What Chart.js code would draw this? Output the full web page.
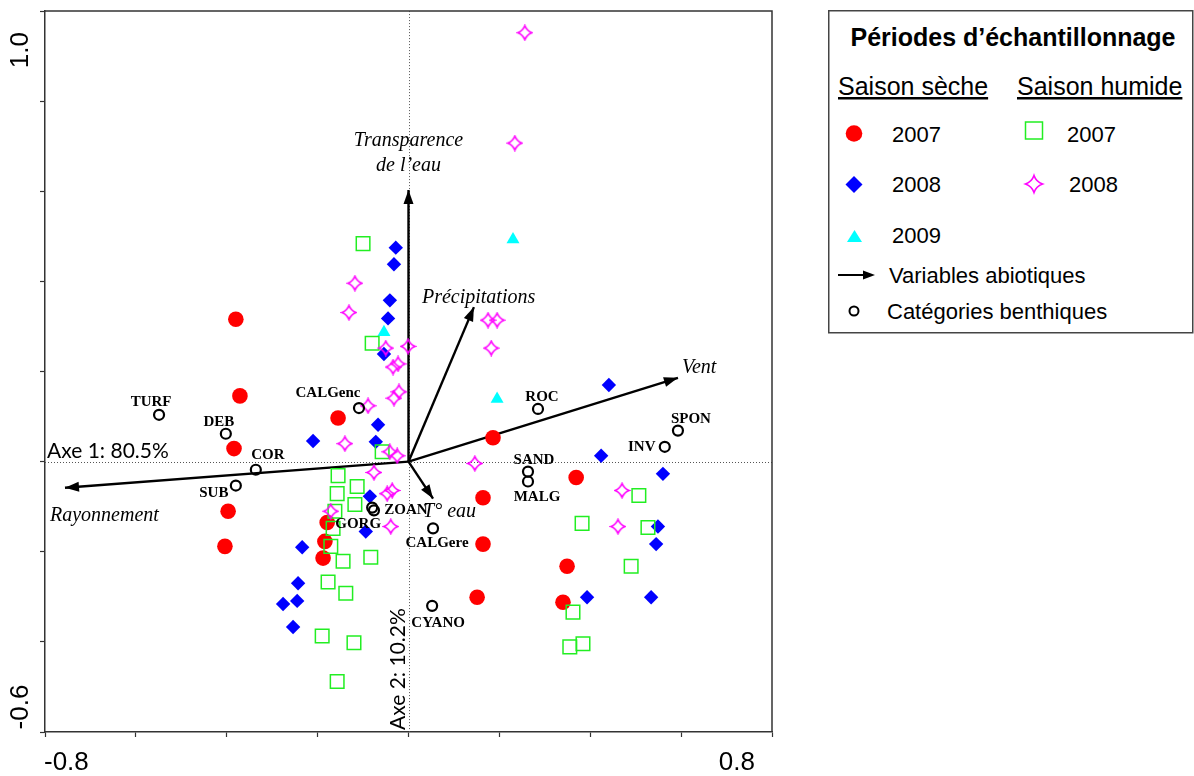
<!DOCTYPE html>
<html lang="fr">
<head>
<meta charset="utf-8">
<title>Analyse canonique – périodes d’échantillonnage</title>
<script src="https://cdn.jsdelivr.net/npm/chart.js@4.4.1/dist/chart.umd.min.js"></script>
<style>
  html, body { margin: 0; padding: 0; background: #fff; }
  .page { position: relative; width: 1194px; height: 776px; overflow: hidden; }
  #cca { position: absolute; left: 0; top: 0; }
  .legend { position: absolute; left: 828px; top: 10px; }
  .legend text { font-family: "Liberation Sans", Arial, sans-serif; fill: #000; }
</style>
</head>
<body>
<div class="page">
  <canvas id="cca" width="1194" height="776"></canvas>
  <svg class="legend" width="366" height="325" viewBox="0 0 366 325">
    <rect x="0.75" y="0.75" width="364" height="322" fill="#fff" stroke="#444" stroke-width="1.5"/>
    <text x="185" y="36" text-anchor="middle" font-size="25" font-weight="bold">Périodes d’échantillonnage</text>
    <text x="10" y="85" font-size="25" text-decoration="underline">Saison sèche</text>
    <text x="189" y="85" font-size="25" text-decoration="underline">Saison humide</text>

    <circle cx="26" cy="123.5" r="8.3" fill="#ff0000"/>
    <text x="64" y="132" font-size="22">2007</text>
    <rect x="197.5" y="112" width="17" height="17" fill="none" stroke="#22ee22" stroke-width="1.5"/>
    <text x="239" y="132" font-size="22">2007</text>

    <path d="M26 166 L34.5 174.5 L26 183 L17.5 174.5 Z" fill="#0000ff"/>
    <text x="64" y="182" font-size="22">2008</text>
    <path d="M206 165.5 Q208.2 171.8 214.5 174 Q208.2 176.2 206 182.5 Q203.8 176.2 197.5 174 Q203.8 171.8 206 165.5 Z"
          fill="none" stroke="#ff00ff" stroke-width="1.6"/>
    <text x="241" y="182" font-size="22">2008</text>

    <path d="M26.5 220 L34 232 L19 232 Z" fill="#00ffff"/>
    <text x="64" y="233" font-size="22">2009</text>

    <line x1="10" y1="265" x2="38" y2="265" stroke="#000" stroke-width="2"/>
    <path d="M47 265 L35 260.5 L35 269.5 Z" fill="#000"/>
    <text x="61" y="273" font-size="22">Variables abiotiques</text>

    <circle cx="26" cy="301" r="4.5" fill="none" stroke="#000" stroke-width="2"/>
    <text x="59" y="309" font-size="22">Catégories benthiques</text>
  </svg>
</div>

<script>
// bornes et libellés des axes
const xTickLabels = ['-0.8', '0.8'];
const yTickLabels = ['-0.6', '1.0'];
const axisTitles = ['Axe 1: 80.5%', 'Axe 2: 10.2%'];

// relevés, saison sèche
const seche2007 = [
  [-0.380, 0.316], [-0.371, 0.146], [-0.384, 0.029], [-0.397, -0.110], [-0.404, -0.188],
  [-0.155, 0.097], [-0.179, -0.135], [-0.184, -0.177], [-0.188, -0.214],
  [0.186, 0.053], [0.164, -0.080], [0.164, -0.183], [0.151, -0.301],
  [0.369, -0.035], [0.349, -0.232], [0.340, -0.312]
];
const seche2008 = [
  [-0.028, 0.475], [-0.032, 0.438], [-0.041, 0.358], [-0.045, 0.318], [-0.054, 0.239],
  [-0.067, 0.082], [-0.210, 0.046], [-0.072, 0.044], [-0.085, -0.077], [-0.094, -0.155],
  [-0.234, -0.190], [-0.243, -0.270], [-0.245, -0.309], [-0.276, -0.316], [-0.254, -0.367],
  [0.441, 0.170], [0.424, 0.013], [0.560, -0.027], [0.549, -0.144], [0.545, -0.183],
  [0.393, -0.301], [0.534, -0.301]
];
const seche2009 = [[0.230, 0.493], [-0.054, 0.287], [0.195, 0.139]];

// relevés, saison humide
const humide2007 = [
  [-0.100, 0.484], [-0.080, 0.263], [-0.058, 0.022], [-0.155, -0.031], [-0.113, -0.055],
  [-0.157, -0.071], [-0.118, -0.095], [-0.162, -0.110], [-0.166, -0.148], [-0.171, -0.188],
  [-0.144, -0.221], [-0.083, -0.212], [-0.177, -0.267], [-0.138, -0.292], [-0.190, -0.387],
  [-0.120, -0.402], [-0.157, -0.488],
  [0.507, -0.075], [0.382, -0.137], [0.527, -0.146], [0.490, -0.232], [0.362, -0.334],
  [0.384, -0.404], [0.355, -0.411]
];
const humide2008 = [
  [0.256, 0.952], [0.234, 0.707], [-0.118, 0.396], [-0.131, 0.331], [0.175, 0.314],
  [0.195, 0.314], [0.182, 0.252], [-0.050, 0.252], [-0.001, 0.256], [-0.023, 0.217],
  [-0.034, 0.210], [-0.021, 0.155], [-0.032, 0.141], [-0.089, 0.124], [-0.140, 0.040],
  [-0.041, 0.022], [-0.025, 0.013], [0.146, -0.004], [-0.076, -0.024], [-0.036, -0.064],
  [-0.047, -0.071], [-0.171, -0.110], [-0.039, -0.144], [0.470, -0.064], [0.461, -0.144]
];

// catégories benthiques
const benthicNames = ['TURF', 'DEB', 'COR', 'SUB', 'CALGenc', 'ZOAN', 'GORG',
  'CALGere', 'CYANO', 'ROC', 'SAND', 'MALG', 'INV', 'SPON'];
const benthicX = [-0.549, -0.402, -0.336, -0.380, -0.109, -0.076, -0.080,
  0.054, 0.052, 0.285, 0.263, 0.263, 0.564, 0.593];
const benthicY = [0.104, 0.062, -0.018, -0.053, 0.119, -0.108, -0.102,
  -0.148, -0.320, 0.117, -0.022, -0.044, 0.033, 0.069];

// variables abiotiques (extrémités des flèches)
const arrowNames = [['Transparence', 'de l’eau'], ['Précipitations'], ['Vent'], ['Rayonnement'], ['T° eau']];
const arrowX = [0.000, 0.144, 0.593, -0.756, 0.054];
const arrowY = [0.603, 0.343, 0.186, -0.058, -0.082];

// placement des étiquettes (px, par rapport au point)
const benthicLabelOffsets = [[-8, -9], [-7, -8], [12, -11], [-22, 11], [-31, -11], [32, 4], [-14, 20],
  [4, 19], [6, 21], [4, -8], [6, -8], [9, 20], [-23, 4], [13, -8]];
const arrowLabelPlacement = [
  { dx: 0, dy: -44, align: 'center' },
  { dx: -52, dy: -4, align: 'left' },
  { dx: 4, dy: -5, align: 'left' },
  { dx: -15, dy: 33, align: 'left' },
  { dx: -10, dy: 18, align: 'left' }
];

const toPoints = rows => rows.map(([x, y]) => ({ x, y }));

// étoile à quatre branches pour la saison humide 2008
function starSprite(size, color) {
  const c = document.createElement('canvas');
  c.width = c.height = size;
  const g = c.getContext('2d');
  const m = size / 2, r = size / 2 - 1.5, k = 2;
  g.beginPath();
  g.moveTo(m, m - r);
  g.quadraticCurveTo(m + k, m - k, m + r, m);
  g.quadraticCurveTo(m + k, m + k, m, m + r);
  g.quadraticCurveTo(m - k, m + k, m - r, m);
  g.quadraticCurveTo(m - k, m - k, m, m - r);
  g.closePath();
  g.strokeStyle = color;
  g.lineWidth = 1.6;
  g.stroke();
  return c;
}

const arrowDatasets = arrowX.map((ax, i) => ({
  type: 'scatter',
  showLine: true,
  data: [{ x: 0, y: 0 }, { x: ax, y: arrowY[i] }],
  borderColor: '#000',
  borderWidth: 2.4,
  pointRadius: 0,
  order: 6
}));

const overlay = {
  id: 'overlay',
  beforeDatasetsDraw(chart) {
    const { ctx, chartArea: a, scales: { x, y } } = chart;
    const x0 = Math.round(x.getPixelForValue(0)) + 0.5;
    const y0 = Math.round(y.getPixelForValue(0)) + 0.5;
    ctx.save();
    ctx.strokeStyle = '#555';
    ctx.lineWidth = 1;
    ctx.setLineDash([1, 2]);
    ctx.beginPath();
    ctx.moveTo(a.left, y0); ctx.lineTo(a.right, y0);
    ctx.moveTo(x0, a.top); ctx.lineTo(x0, a.bottom);
    ctx.stroke();
    ctx.setLineDash([]);

    // pourcentages d'inertie le long des axes
    ctx.fillStyle = '#000';
    ctx.font = '21px Lato, "Liberation Sans", sans-serif';
    ctx.textAlign = 'left';
    ctx.textBaseline = 'alphabetic';
    ctx.fillText(axisTitles[0], a.left + 2, y0 - 5);
    ctx.translate(x0 - 5, a.bottom - 2);
    ctx.rotate(-Math.PI / 2);
    ctx.fillText(axisTitles[1], 0, 0);
    ctx.restore();
  },
  afterDatasetsDraw(chart) {
    const { ctx, scales: { x, y } } = chart;
    const ox = x.getPixelForValue(0), oy = y.getPixelForValue(0);
    ctx.save();
    ctx.fillStyle = '#000';

    arrowX.forEach((ax, i) => {
      const tx = x.getPixelForValue(ax), ty = y.getPixelForValue(arrowY[i]);
      const ang = Math.atan2(ty - oy, tx - ox);
      const len = 14, half = 5;
      ctx.beginPath();
      ctx.moveTo(tx, ty);
      ctx.lineTo(tx - len * Math.cos(ang) + half * Math.sin(ang), ty - len * Math.sin(ang) - half * Math.cos(ang));
      ctx.lineTo(tx - len * Math.cos(ang) - half * Math.sin(ang), ty - len * Math.sin(ang) + half * Math.cos(ang));
      ctx.closePath();
      ctx.fill();

      const p = arrowLabelPlacement[i];
      ctx.font = 'italic 20px "Liberation Serif", "Times New Roman", serif';
      ctx.textAlign = p.align;
      ctx.textBaseline = 'alphabetic';
      arrowNames[i].forEach((line, j) => {
        ctx.fillText(line, tx + p.dx, ty + p.dy + j * 25);
      });
    });

    ctx.font = 'bold 15px "Liberation Serif", "Times New Roman", serif';
    ctx.textAlign = 'center';
    benthicNames.forEach((name, i) => {
      const [dx, dy] = benthicLabelOffsets[i];
      ctx.fillText(name, x.getPixelForValue(benthicX[i]) + dx, y.getPixelForValue(benthicY[i]) + dy);
    });
    ctx.restore();
  },
  afterDraw(chart) {
    const { ctx, chartArea: a, scales: { x, y } } = chart;
    ctx.save();
    // cadre haut et droit
    ctx.strokeStyle = '#333';
    ctx.lineWidth = 1.5;
    ctx.beginPath();
    ctx.moveTo(a.left, a.top);
    ctx.lineTo(a.right, a.top);
    ctx.lineTo(a.right, a.bottom);
    ctx.stroke();

    // valeurs extrêmes des axes
    ctx.fillStyle = '#000';
    ctx.font = '26px "Liberation Sans", Arial, sans-serif';
    ctx.textBaseline = 'alphabetic';
    ctx.textAlign = 'left';
    ctx.fillText(xTickLabels[0], x.getPixelForValue(parseFloat(xTickLabels[0])) - 1, a.bottom + 38);
    ctx.textAlign = 'right';
    ctx.fillText(xTickLabels[1], x.getPixelForValue(parseFloat(xTickLabels[1])) - 17, a.bottom + 38);

    ctx.textAlign = 'center';
    ctx.textBaseline = 'middle';
    const yPos = [y.getPixelForValue(parseFloat(yTickLabels[0])) - 25,
                  y.getPixelForValue(parseFloat(yTickLabels[1])) + 39];
    yTickLabels.forEach((lab, i) => {
      ctx.save();
      ctx.translate(21, yPos[i]);
      ctx.rotate(-Math.PI / 2);
      ctx.fillText(lab, 0, 0);
      ctx.restore();
    });
    ctx.restore();
  }
};

new Chart(document.getElementById('cca'), {
  type: 'scatter',
  data: {
    datasets: [
      ...arrowDatasets,
      {
        label: 'Saison sèche 2007',
        data: toPoints(seche2007),
        pointStyle: 'circle',
        pointRadius: 7.8,
        backgroundColor: '#ff0000',
        borderWidth: 0,
        order: 5
      },
      {
        label: 'Saison sèche 2008',
        data: toPoints(seche2008),
        pointStyle: 'rectRot',
        pointRadius: 7.2,
        backgroundColor: '#0000ff',
        borderWidth: 0,
        order: 4
      },
      {
        label: 'Saison sèche 2009',
        data: toPoints(seche2009),
        pointStyle: 'triangle',
        pointRadius: 7.5,
        backgroundColor: '#00ffff',
        borderWidth: 0,
        order: 3
      },
      {
        label: 'Saison humide 2007',
        data: toPoints(humide2007),
        pointStyle: 'rect',
        pointRadius: 9.6,
        backgroundColor: 'rgba(0,0,0,0)',
        borderColor: '#22ee22',
        borderWidth: 1.5,
        order: 2
      },
      {
        label: 'Saison humide 2008',
        data: toPoints(humide2008),
        pointStyle: starSprite(17, '#ff00ff'),
        pointRadius: 8,
        order: 1
      },
      {
        label: 'Catégories benthiques',
        data: benthicX.map((bx, i) => ({ x: bx, y: benthicY[i] })),
        pointStyle: 'circle',
        pointRadius: 5,
        backgroundColor: 'rgba(0,0,0,0)',
        borderColor: '#000',
        borderWidth: 2.2,
        order: 0
      }
    ]
  },
  options: {
    responsive: false,
    animation: false,
    events: [],
    layout: { padding: { top: 8, right: 422, bottom: 0, left: 0 } },
    plugins: { legend: { display: false }, tooltip: { enabled: false } },
    scales: {
      x: {
        type: 'linear',
        min: parseFloat(xTickLabels[0]),
        max: parseFloat(xTickLabels[1]),
        ticks: { display: false, stepSize: 0.2 },
        grid: { drawOnChartArea: false, drawTicks: true, tickLength: 5, color: '#333', tickWidth: 1.2 },
        border: { color: '#333', width: 1.5 },
        afterFit(s) { s.height = 44; }
      },
      y: {
        type: 'linear',
        min: parseFloat(yTickLabels[0]),
        max: parseFloat(yTickLabels[1]),
        ticks: { display: false, stepSize: 0.2 },
        grid: { drawOnChartArea: false, drawTicks: true, tickLength: 5, color: '#333', tickWidth: 1.2 },
        border: { color: '#333', width: 1.5 },
        afterFit(s) { s.width = 45; }
      }
    }
  },
  plugins: [overlay]
});
</script>
</body>
</html>
